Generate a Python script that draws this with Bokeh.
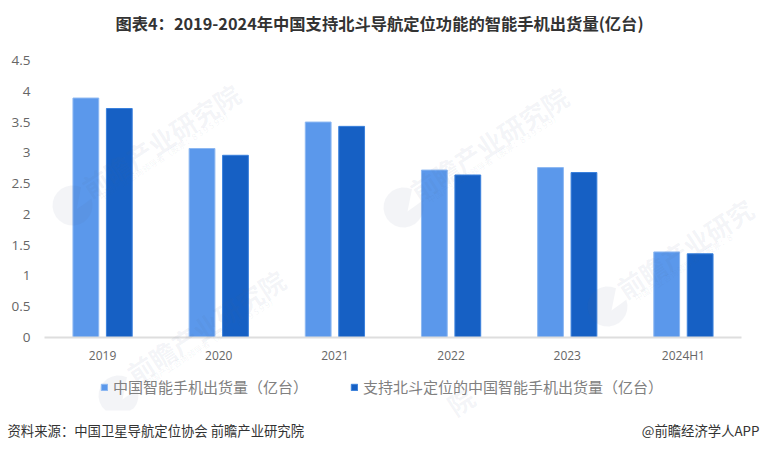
import math
from bokeh.embed import file_html
from bokeh.resources import INLINE
from bokeh.plotting import figure
from bokeh.models import (ColumnDataSource, Range1d, Label, Legend, LegendItem,
                          FixedTicker, PolyAnnotation)
from bokeh.transform import dodge

categories = ["2019", "2020", "2021", "2022", "2023", "2024H1"]
shipments = [3.89, 3.07, 3.50, 2.72, 2.76, 1.39]
beidou = [3.72, 2.96, 3.43, 2.64, 2.68, 1.36]
y_ticks = [0, 0.5, 1, 1.5, 2, 2.5, 3, 3.5, 4, 4.5]
y_tick_labels = ["0", "0.5", "1", "1.5", "2", "2.5", "3", "3.5", "4", "4.5"]
series_names = ["中国智能手机出货量（亿台）", "支持北斗定位的中国智能手机出货量（亿台）"]
title_text = "图表4：2019-2024年中国支持北斗导航定位功能的智能手机出货量(亿台)"
source_text = "资料来源：中国卫星导航定位协会 前瞻产业研究院"
credit_text = "@前瞻经济学人APP"
wm_main = "前瞻产业研究院"
wm_sub = "中国产业咨询领导者（股票：8 3 9 5 9 9）"

CJK = "Noto Sans CJK SC"
W, H = 760, 451
# plot area inside the canvas, in pixels: the frame fills the canvas so that
# annotations outside the plot area are not clipped
AL, AR, AT, AB = 44, 741, 60, 337
ncat = len(categories)
xpp = ncat / (AR - AL)
ypp = 4.5 / (AB - AT)
x_idx = list(range(ncat))

src = ColumnDataSource(dict(i=x_idx, a=shipments, b=beidou))
p = figure(x_range=Range1d(-0.5 - AL * xpp, ncat - 0.5 + (W - AR) * xpp),
           y_range=Range1d(-(H - AB) * ypp, 4.5 + AT * ypp),
           width=W, height=H, output_backend="svg", toolbar_location=None,
           min_border=0, min_border_left=0, min_border_right=0,
           min_border_top=0, min_border_bottom=0)
p.outline_line_color = None
p.grid.visible = False
p.background_fill_color = "white"

r1 = p.vbar(x=dodge("i", -0.144), top="a", width=0.222, source=src,
            fill_color="#5B98EB", line_color="#8DB8F2", line_width=1)
r2 = p.vbar(x=dodge("i", 0.144), top="b", width=0.222, source=src,
            fill_color="#1660C4", line_color="#3A80DC", line_width=1)

p.xaxis.fixed_location = 0
p.xaxis.bounds = (-0.5, ncat - 0.5)
p.xaxis.ticker = FixedTicker(ticks=x_idx)
p.xaxis.major_label_overrides = dict(zip(x_idx, categories))
p.xaxis.axis_line_color = "#DEDEDE"
p.xaxis.axis_line_width = 2
p.xaxis.major_tick_line_color = None
p.xaxis.major_tick_out = 0
p.xaxis.major_tick_in = 0
p.xaxis.minor_tick_line_color = None
p.xaxis.major_label_text_font = "Open Sans"
p.xaxis.major_label_text_font_size = "12px"
p.xaxis.major_label_text_color = "#666666"
p.xaxis.major_label_standoff = 9

p.yaxis.fixed_location = -0.5
p.yaxis.bounds = (0, 4.5)
p.yaxis.axis_line_color = None
p.yaxis.major_tick_line_color = None
p.yaxis.major_tick_out = 0
p.yaxis.major_tick_in = 0
p.yaxis.minor_tick_line_color = None
p.yaxis.ticker = FixedTicker(ticks=y_ticks)
p.yaxis.major_label_overrides = dict(zip(y_ticks, y_tick_labels))
p.yaxis.major_label_text_font = "Open Sans"
p.yaxis.major_label_text_font_size = "13.5px"
p.yaxis.major_label_text_color = "#666666"
p.yaxis.major_label_standoff = 14

legend = Legend(items=[LegendItem(label=series_names[0], renderers=[r1]),
                       LegendItem(label=series_names[1], renderers=[r2])],
                orientation="horizontal", location=(100, 54),
                background_fill_alpha=0, border_line_color=None,
                glyph_width=8, glyph_height=8, label_standoff=5, spacing=42,
                padding=0, margin=0,
                label_text_font=CJK, label_text_font_size="15px",
                label_text_color="#808080")
p.add_layout(legend, "center")


def text(t, px, py, **kw):
    p.add_layout(Label(x=px, y=H - py, x_units="screen", y_units="screen", text=t, **kw))


WM_COLOR = "#55688F"
ANG = math.radians(33)


def logo(cx, cy, ymax=10000):
    r = 20
    xs, ys = [], []
    # disc with a notch cut in from the upper right
    for deg in list(range(-20, 300, 15)):
        a = math.radians(deg)
        xs.append(cx + r * math.cos(a))
        ys.append(min(cy + r * math.sin(a), ymax))
    xs += [cx + 6, cx + 4]
    ys += [cy - 6, cy + 4]
    p.add_layout(PolyAnnotation(xs=xs, ys=[H - y for y in ys], xs_units="screen", ys_units="screen",
                                fill_color=WM_COLOR, fill_alpha=0.07, line_color=None))


def watermark(x0, y0, main=wm_main, sub=wm_sub):
    text(main, x0, y0, angle=ANG, text_font=CJK, text_font_size="26px", text_font_style="bold",
         text_color=WM_COLOR, text_alpha=0.07, text_baseline="middle", text_align="left")
    if sub:
        text(sub, x0 + 15, y0 + 8, angle=ANG, text_font=CJK, text_font_size="8.5px",
             text_color=WM_COLOR, text_alpha=0.08, text_baseline="middle", text_align="left")


watermark(84, 189)
logo(72, 205)
watermark(412, 192)
logo(403, 207)
watermark(619, 290, main=wm_main[:6], sub=wm_sub[:15])
logo(607, 306)
watermark(129, 375)
logo(118, 395, ymax=410)
watermark(449, 407, main=wm_main[-1], sub=None)

text(title_text, 379, 22, text_font=CJK, text_font_size="16.3px", text_font_style="bold",
     text_color="#333333", text_baseline="middle", text_align="center")
text(source_text, 7, 430, text_font=CJK, text_font_size="13.35px", text_color="#333333",
     text_baseline="middle", text_align="left")
text(credit_text, 759, 430, text_font=CJK, text_font_size="13.35px", text_color="#333333",
     text_baseline="middle", text_align="right")

open("out.html", "w").write(file_html(p, INLINE))
